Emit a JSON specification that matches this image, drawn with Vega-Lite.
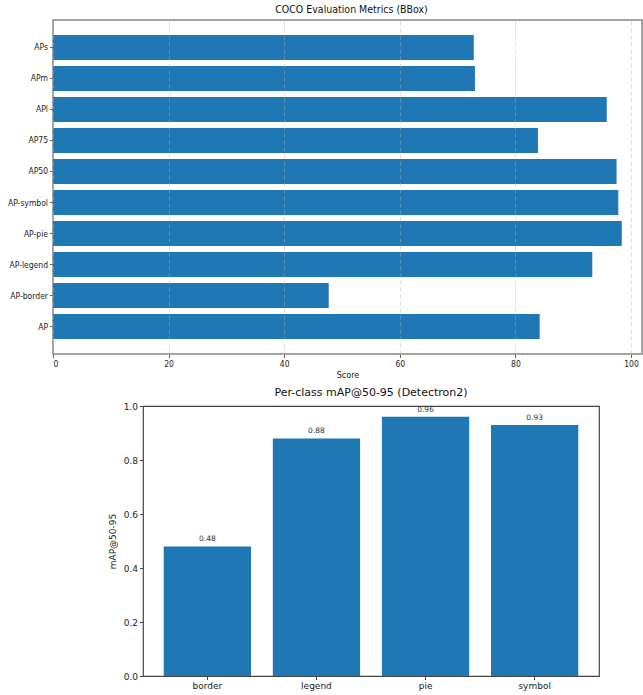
{
  "$schema": "https://vega.github.io/schema/vega-lite/v6.json",
  "background": "white",
  "padding": {"left": 6, "top": 3, "right": 0, "bottom": 0},
  "bounds": "flush",
  "spacing": 52,
  "config": {
    "view": {"stroke": null},
    "axis": {"domain": false, "labelColor": "#222", "titleColor": "#222", "titleFontWeight": "normal", "tickSize": 3.5}
  },
  "vconcat": [
    {
      "width": 589,
      "height": 334,
      "view": {"stroke": "#888888", "strokeWidth": 1.5},
      "title": {
        "text": "COCO Evaluation Metrics (BBox)",
        "font": "DejaVu Sans Condensed, DejaVu Sans",
        "fontSize": 10.5,
        "fontWeight": "normal",
        "color": "#111",
        "offset": 5,
        "dx": 4
      },
      "data": {
        "values": [
          {"metric": "APs", "score": 72.8},
          {"metric": "APm", "score": 73.0},
          {"metric": "APl", "score": 95.8},
          {"metric": "AP75", "score": 83.9},
          {"metric": "AP50", "score": 97.5},
          {"metric": "AP-symbol", "score": 97.8},
          {"metric": "AP-pie", "score": 98.4},
          {"metric": "AP-legend", "score": 93.3},
          {"metric": "AP-border", "score": 47.7},
          {"metric": "AP", "score": 84.2}
        ]
      },
      "mark": {"type": "bar", "color": "#1f77b4"},
      "encoding": {
        "y": {
          "field": "metric",
          "type": "nominal",
          "sort": ["APs", "APm", "APl", "AP75", "AP50", "AP-symbol", "AP-pie", "AP-legend", "AP-border", "AP"],
          "scale": {"paddingInner": 0.2, "paddingOuter": 0.487},
          "axis": {
            "title": null,
            "labelFont": "DejaVu Sans Condensed, DejaVu Sans",
            "labelFontSize": 8.5,
            "labelPadding": 2,
            "tickColor": "#666"
          }
        },
        "x": {
          "field": "score",
          "type": "quantitative",
          "scale": {"domain": [0, 101.9], "nice": false, "zero": true},
          "axis": {
            "values": [0, 20, 40, 60, 80, 100],
            "title": "Score",
            "titleFont": "DejaVu Sans Condensed, DejaVu Sans",
            "titleFontSize": 9,
            "titlePadding": 2,
            "labelFont": "DejaVu Sans Condensed, DejaVu Sans",
            "labelFontSize": 8.5,
            "labelPadding": 2,
            "tickColor": "#666",
            "grid": true,
            "gridColor": "#b0b0b0",
            "gridOpacity": 0.55,
            "gridDash": [4, 3],
            "gridWidth": 0.8,
            "zindex": 1
          }
        }
      }
    },
    {
      "hconcat": [
        {
          "width": 90,
          "height": 270,
          "data": {"values": []},
          "mark": "point",
          "encoding": {}
        },
        {
          "width": 456,
          "height": 270,
          "view": {"stroke": "#444444", "strokeWidth": 1.2},
          "title": {
            "text": "Per-class mAP@50-95 (Detectron2)",
            "font": "DejaVu Sans",
            "fontSize": 11,
            "fontWeight": "normal",
            "color": "#111",
            "offset": 4
          },
          "data": {
            "values": [
              {"cls": "border", "map": 0.48, "label": "0.48"},
              {"cls": "legend", "map": 0.88, "label": "0.88"},
              {"cls": "pie", "map": 0.96, "label": "0.96"},
              {"cls": "symbol", "map": 0.93, "label": "0.93"}
            ]
          },
          "encoding": {
            "x": {
              "field": "cls",
              "type": "nominal",
              "sort": ["border", "legend", "pie", "symbol"],
              "scale": {"paddingInner": 0.2, "paddingOuter": 0.19},
              "axis": {
                "title": null,
                "labelAngle": 0,
                "labelFont": "DejaVu Sans",
                "labelFontSize": 9,
                "labelPadding": 2,
                "tickColor": "#444"
              }
            },
            "y": {
              "field": "map",
              "type": "quantitative",
              "scale": {"domain": [0, 1], "nice": false},
              "axis": {
                "values": [0, 0.2, 0.4, 0.6, 0.8, 1.0],
                "format": ".1f",
                "title": "mAP@50-95",
                "titleFont": "DejaVu Sans",
                "titleFontSize": 9,
                "titlePadding": 6,
                "labelFont": "DejaVu Sans",
                "labelFontSize": 9,
                "labelPadding": 2,
                "tickColor": "#444",
                "grid": false
              }
            }
          },
          "layer": [
            {"mark": {"type": "bar", "color": "#1f77b4"}},
            {
              "mark": {"type": "text", "baseline": "bottom", "dy": -3, "font": "DejaVu Sans", "fontSize": 7.5, "color": "#333"},
              "encoding": {"text": {"field": "label"}}
            }
          ]
        }
      ],
      "spacing": 0,
      "bounds": "flush"
    }
  ]
}
